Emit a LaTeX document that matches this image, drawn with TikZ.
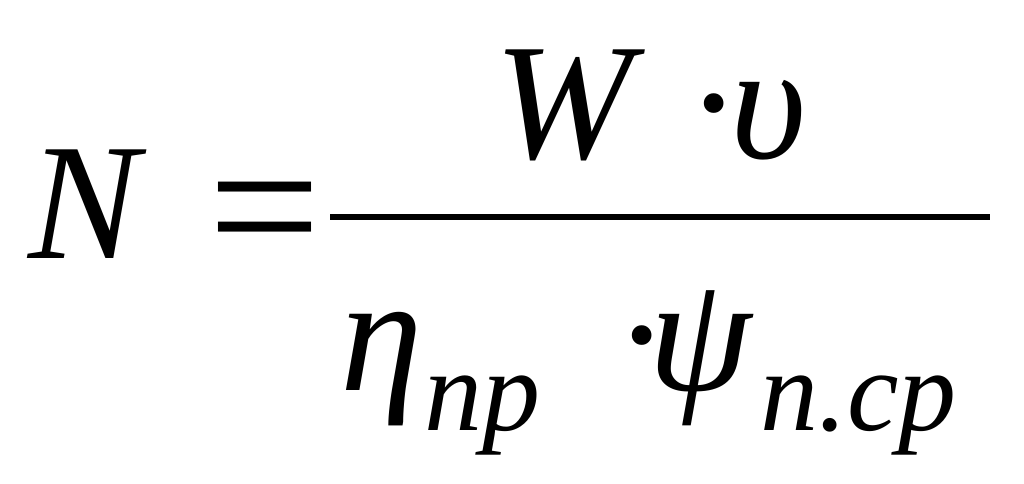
\documentclass[tikz,border=0pt]{standalone}
\usepackage{fontspec}
\setmainfont{Liberation Serif}
\begin{document}
\begin{tikzpicture}[x=1pt,y=-1pt,
  big/.style={inner sep=0pt,anchor=base west,font=\fontsize{166}{166}\selectfont\itshape},
  sub/.style={inner sep=0pt,anchor=base west,font=\fontsize{116}{116}\selectfont\itshape},
  up/.style={inner sep=0pt,anchor=base west,font=\fontsize{166}{166}\selectfont}]
\useasboundingbox (0,0) rectangle (1024,483);
\node[big] (N) at (28,258) {N};
\node[up,font=\fontsize{200}{200}\selectfont] (eq) at (208,273) {=};
\draw[line width=6pt] (330,217) -- (990,217);
\node[big] (W) at (494,158) {W};
\node[up] (d1) at (686,158) {·};
\node[big] (u) at (730,158) {υ};
\node[big] (eta) at (340,390) {η};
\node[sub] (np) at (424,430) {np};
\node[up] (d2) at (614,390) {·};
\node[big] (psi) at (648,390) {ψ};
\node[sub] (ncp) at (760,430) {n.cp};
\end{tikzpicture}
\end{document}
